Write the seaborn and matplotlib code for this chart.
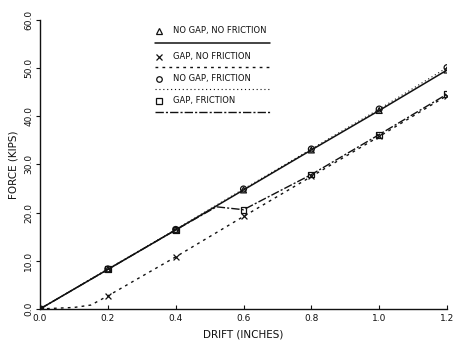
import matplotlib
matplotlib.use("Agg")
import matplotlib.pyplot as plt
import seaborn as sns
import pandas as pd
import numpy as np

# ---- data ----
drift_s1 = [0.0, 0.2, 0.4, 0.6, 0.8, 1.0, 1.2]
force_s1 = [0.0, 8.2, 16.4, 24.7, 33.0, 41.2, 49.6]          # no gap, no friction

drift_s2 = [0.0, 0.1, 0.15, 0.2, 0.4, 0.6, 0.8, 1.0, 1.2]
force_s2 = [0.0, 0.3, 0.8, 2.7, 10.8, 19.2, 27.5, 35.8, 44.3]  # gap, no friction
mark_s2 = [True, False, False, True, True, True, True, True, True]

drift_s3 = [0.0, 0.2, 0.4, 0.6, 0.8, 1.0, 1.2]
force_s3 = [0.0, 8.3, 16.5, 24.9, 33.2, 41.5, 50.1]          # no gap, friction

drift_s4 = [0.0, 0.2, 0.4, 0.52, 0.6, 0.8, 1.0, 1.2]
force_s4 = [0.0, 8.2, 16.4, 21.2, 20.6, 27.9, 36.2, 44.6]    # gap, friction
mark_s4 = [True, True, True, False, True, True, True, True]

labels = ["NO GAP, NO FRICTION", "GAP, NO FRICTION", "NO GAP, FRICTION", "GAP, FRICTION"]
x_ticks = [0.0, 0.2, 0.4, 0.6, 0.8, 1.0, 1.2]
y_ticks = [0, 10, 20, 30, 40, 50, 60]

frames = []
for lab, xs, ys, mk in [
    (labels[0], drift_s1, force_s1, [True] * len(drift_s1)),
    (labels[1], drift_s2, force_s2, mark_s2),
    (labels[2], drift_s3, force_s3, [True] * len(drift_s3)),
    (labels[3], drift_s4, force_s4, mark_s4),
]:
    frames.append(pd.DataFrame({"drift": xs, "force": ys, "series": lab, "mark": mk}))
df = pd.concat(frames, ignore_index=True)

sns.set_style("ticks")
plt.rcParams["font.family"] = ["DejaVu Sans"]

fig = plt.figure(figsize=(4.62, 3.44), dpi=100)
ax = fig.add_axes([0.0866, 0.102, 0.881, 0.840])

ink = "#111111"
dashes = {labels[0]: "", labels[1]: (2, 3), labels[2]: (1, 2.5), labels[3]: (6, 1.5, 1.5, 1.5)}
lws = {labels[0]: 1.1, labels[1]: 1.0, labels[2]: 0.8, labels[3]: 1.0}
markers = {labels[0]: "^", labels[1]: "x", labels[2]: "o", labels[3]: "s"}

sns.lineplot(data=df, x="drift", y="force", hue="series", style="series",
             dashes=dashes, palette=[ink] * 4, estimator=None, sort=False,
             legend=False, ax=ax, linewidth=1.0)
for line, lab in zip(ax.get_lines(), labels):
    line.set_linewidth(lws[lab])

pts = df[df["mark"]]
for lab in labels:
    sub = pts[pts["series"] == lab]
    if markers[lab] == "x":
        sns.scatterplot(data=sub, x="drift", y="force", marker="x", color=ink,
                        s=18, linewidth=0.9, ax=ax, legend=False, zorder=5)
    else:
        sns.scatterplot(data=sub, x="drift", y="force", marker=markers[lab],
                        facecolor="none", edgecolor=ink, s=18, linewidth=0.9,
                        ax=ax, legend=False, zorder=5)

ax.set_xlim(0, 1.2)
ax.set_ylim(0, 60)
ax.set_xticks(x_ticks)
ax.set_xticklabels([f"{v:.1f}" for v in x_ticks], fontsize=6.5)
ax.set_yticks(y_ticks)
ax.set_yticklabels([f"{v:.1f}" for v in y_ticks], fontsize=6.5, rotation=90, va="center")
ax.tick_params(axis="x", direction="in", length=3, width=0.8, colors=ink, pad=4)
ax.tick_params(axis="y", direction="out", length=3, width=0.8, colors=ink, pad=2)
for side in ["top", "right"]:
    ax.spines[side].set_visible(False)
for side in ["left", "bottom"]:
    ax.spines[side].set_linewidth(1.0)
    ax.spines[side].set_color(ink)
ax.set_xlabel("DRIFT (INCHES)", fontsize=7.5, labelpad=4, color=ink)
ax.set_ylabel("FORCE (KIPS)", fontsize=7.5, labelpad=4, color=ink)

# custom legend block (marker + text row, line sample below)
tr = ax.transAxes
x0, x1 = 0.283, 0.565
rows = [0.962, 0.872, 0.796, 0.720]
line_rows = [0.920, 0.837, 0.761, 0.682]
for lab, yy, ly in zip(labels, rows, line_rows):
    if markers[lab] == "x":
        ax.plot([0.292], [yy], marker="x", color=ink, ms=4, mew=0.9, transform=tr, clip_on=False)
    else:
        ax.plot([0.292], [yy], marker=markers[lab], mfc="none", mec=ink, ms=4, mew=0.9,
                transform=tr, clip_on=False)
    ax.text(0.326, yy, lab, transform=tr, fontsize=6, va="center", ha="left", color=ink)
    ln, = ax.plot([x0, x1], [ly, ly], color=ink, lw=lws[lab], transform=tr)
    if dashes[lab]:
        ln.set_dashes(dashes[lab])

fig.savefig("out.png", dpi=100)
